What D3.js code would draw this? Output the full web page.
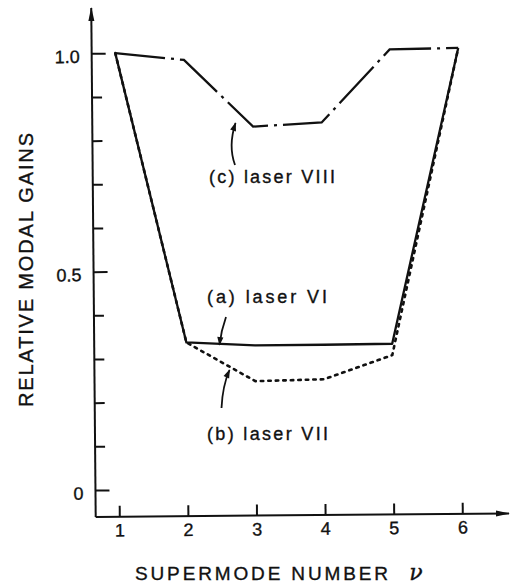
<!DOCTYPE html>
<html>
<head>
<meta charset="utf-8">
<script src="https://cdn.jsdelivr.net/npm/d3@7"></script>
<style>
  html, body { margin: 0; padding: 0; background: #fff; }
  svg { display: block; }
  text { font-family: "Liberation Sans", Arial, sans-serif; fill: #111; stroke: #111; stroke-width: 0.35px; }
</style>
</head>
<body>
<svg id="chart" width="518" height="585"></svg>
<script>
// Supermode index and relative modal gains for the three lasers
const supermodes = [1, 2, 3, 4, 5, 6];
const gainLaserVI = [1.0, 0.336, 0.328, 0.328, 0.329, 1.005];
const gainLaserVII = [1.0, 0.336, 0.246, 0.249, 0.303, 1.005];
const gainLaserVIII = [1.0, 0.983, 0.829, 0.837, 1.003, 1.005];

const xTickValues = [1, 2, 3, 4, 5, 6];
const yMajorTicks = [0, 0.5, 1.0];
const yMajorLabels = ["0", "0.5", "1.0"];
const yMinorTicks = [0.1, 0.2, 0.3, 0.4, 0.6, 0.7, 0.8, 0.9];

const svg = d3.select("#chart");
const ink = "#111";

// axis origin (bottom-left corner of the plot)
const ox = 95.7, oy = 517;

const x = d3.scaleLinear().domain([1, 6]).range([119.3, 462.3]);
const y = d3.scaleLinear().domain([0, 1]).range([490, 53.3]);

const defs = svg.append("defs");
defs.append("marker")
  .attr("id", "axisHead")
  .attr("viewBox", "0 0 14 8")
  .attr("refX", 13).attr("refY", 4)
  .attr("markerWidth", 14).attr("markerHeight", 8)
  .attr("markerUnits", "userSpaceOnUse")
  .attr("orient", "auto")
  .append("path").attr("d", "M0,1 L14,4 L0,7 Z").attr("fill", ink);
defs.append("marker")
  .attr("id", "noteHead")
  .attr("viewBox", "0 0 10 8")
  .attr("refX", 9).attr("refY", 4)
  .attr("markerWidth", 10).attr("markerHeight", 7)
  .attr("markerUnits", "userSpaceOnUse")
  .attr("orient", "auto")
  .append("path").attr("d", "M0,0.5 L10,4 L0,7.5 Z").attr("fill", ink);

// the plot frame sits at a slight tilt
const plot = svg.append("g")
  .attr("transform", `rotate(-0.5, ${ox}, ${oy})`);

// axis lines with arrowheads
plot.append("line")
  .attr("x1", ox).attr("y1", oy).attr("x2", ox).attr("y2", 8)
  .attr("stroke", ink).attr("stroke-width", 2)
  .attr("marker-end", "url(#axisHead)");
plot.append("line")
  .attr("x1", ox).attr("y1", oy).attr("x2", 509).attr("y2", oy)
  .attr("stroke", ink).attr("stroke-width", 2)
  .attr("marker-end", "url(#axisHead)");

// y axis: long labelled ticks and short minor ticks pointing inward
const yMajor = d3.axisLeft(y)
  .tickValues(yMajorTicks)
  .tickFormat((d, i) => yMajorLabels[i])
  .tickSizeInner(-14).tickSizeOuter(0).tickPadding(12);
const yMinor = d3.axisLeft(y)
  .tickValues(yMinorTicks)
  .tickFormat("")
  .tickSizeInner(-10).tickSizeOuter(0);

function styleAxis(g) {
  g.select(".domain").remove();
  g.selectAll(".tick line").attr("stroke", ink).attr("stroke-width", 2);
  g.selectAll(".tick text")
    .attr("fill", ink)
    .style("font-family", "'Liberation Sans', Arial, sans-serif")
    .style("font-size", "18px");
}

plot.append("g").attr("transform", `translate(${ox},0)`).call(yMajor).call(styleAxis)
  .selectAll(".tick text").attr("dy", "0.5em");
plot.append("g").attr("transform", `translate(${ox},0)`).call(yMinor).call(styleAxis);

const xAxis = d3.axisBottom(x)
  .tickValues(xTickValues)
  .tickFormat(d3.format("d"))
  .tickSizeInner(-11).tickSizeOuter(0).tickPadding(7);
plot.append("g").attr("transform", `translate(0,${oy})`).call(xAxis).call(styleAxis);

// gain curves
const line = d3.line().x((d, i) => x(supermodes[i])).y(d => y(d));

plot.append("path")
  .datum(gainLaserVII)
  .attr("d", line)
  .attr("fill", "none").attr("stroke", ink)
  .attr("stroke-width", 2.6)
  .attr("stroke-dasharray", "2.5,5")
  .attr("stroke-linecap", "round");

plot.append("path")
  .datum(gainLaserVI)
  .attr("d", line)
  .attr("fill", "none").attr("stroke", ink)
  .attr("stroke-width", 2.3)
  .attr("stroke-linejoin", "round");

plot.append("path")
  .datum(gainLaserVIII)
  .attr("d", line)
  .attr("fill", "none").attr("stroke", ink)
  .attr("stroke-width", 2.3)
  .attr("stroke-dasharray", "50,6,3,6");

// curve annotations
const notes = [
  { text: "(c) laser VIII", x: 209, y: 183, w: 126, arrow: "M235,165 Q228,146 235.5,123" },
  { text: "(a) laser VI", x: 207, y: 303, w: 120, arrow: "M226,317 Q221,331 219.5,345" },
  { text: "(b) laser VII", x: 207, y: 440, w: 121, arrow: "M221.5,408 Q222.5,386 229.5,370" }
];
notes.forEach(n => {
  svg.append("text")
    .attr("x", n.x).attr("y", n.y)
    .attr("textLength", n.w).attr("lengthAdjust", "spacing")
    .style("font-size", "18px")
    .text(n.text);
  svg.append("path")
    .attr("d", n.arrow)
    .attr("fill", "none").attr("stroke", ink).attr("stroke-width", 1.8)
    .attr("marker-end", "url(#noteHead)");
});

// axis titles
svg.append("text")
  .attr("x", 135).attr("y", 580)
  .attr("textLength", 253).attr("lengthAdjust", "spacing")
  .style("font-size", "19px")
  .text("SUPERMODE NUMBER");
svg.append("text")
  .attr("x", 416).attr("y", 580)
  .attr("text-anchor", "middle")
  .style("font-family", "'DejaVu Serif', 'Liberation Serif', serif")
  .style("font-style", "italic")
  .style("font-size", "22px")
  .text("ν");

svg.append("text")
  .attr("transform", "translate(32.5,270) rotate(-90)")
  .attr("x", -137).attr("y", 0)
  .attr("textLength", 274).attr("lengthAdjust", "spacing")
  .style("font-size", "20px")
  .text("RELATIVE MODAL GAINS");
</script>
</body>
</html>
